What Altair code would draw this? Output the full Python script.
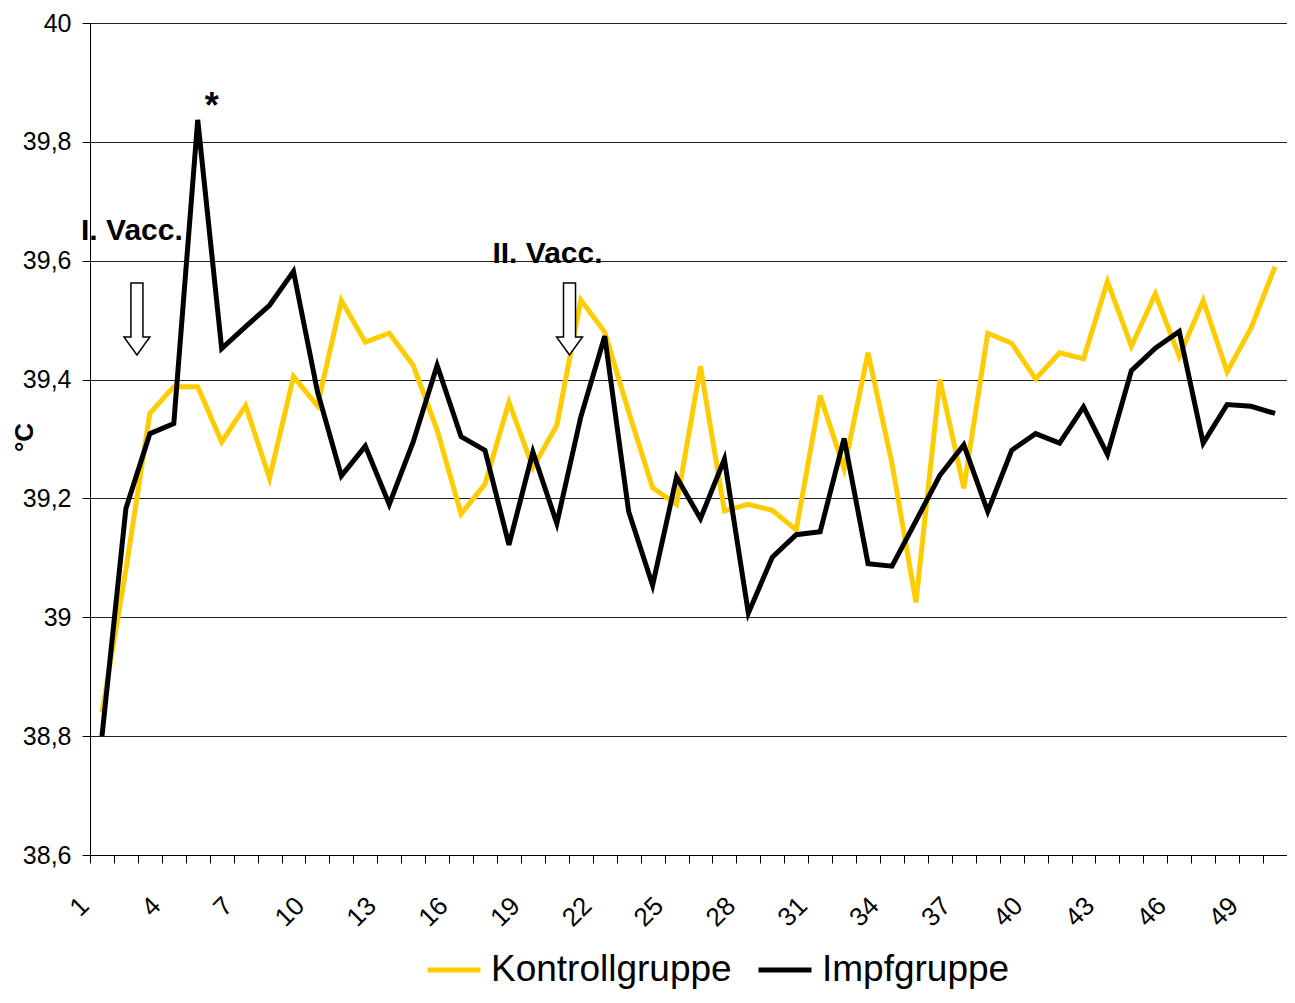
import altair as alt
import pandas as pd

days = list(range(1, 51))
kontroll = [38.84, 39.08, 39.343, 39.388, 39.388, 39.295, 39.356, 39.234, 39.405, 39.356,
            39.533, 39.463, 39.478, 39.424, 39.315, 39.174, 39.224, 39.362, 39.252, 39.323,
            39.534, 39.480, 39.346, 39.218, 39.190, 39.422, 39.179, 39.190, 39.180, 39.147,
            39.373, 39.250, 39.445, 39.259, 39.025, 39.400, 39.217, 39.478, 39.461, 39.401,
            39.445, 39.435, 39.565, 39.456, 39.544, 39.439, 39.533, 39.413, 39.487, 39.590]
impf = [38.80, 39.183, 39.309, 39.326, 39.837, 39.452, 39.489, 39.525, 39.582, 39.38,
        39.238, 39.288, 39.190, 39.295, 39.424, 39.304, 39.281, 39.122, 39.278, 39.158,
        39.337, 39.473, 39.178, 39.054, 39.236, 39.166, 39.266, 39.007, 39.101, 39.139,
        39.144, 39.301, 39.090, 39.086, 39.162, 39.239, 39.290, 39.178, 39.281, 39.309,
        39.293, 39.354, 39.274, 39.415, 39.453, 39.481, 39.293, 39.358, 39.355, 39.343]
series_names = ["Kontrollgruppe", "Impfgruppe"]
series_colors = ["#FFCC00", "#000000"]
y_ticks = [38.6, 38.8, 39.0, 39.2, 39.4, 39.6, 39.8, 40.0]
x_ticks = [k + 0.5 for k in range(0, 51)]

ann_text = ["I. Vacc.", "II. Vacc.", "*"]
ann_x = [2.25, 19.61, 5.59]
ann_y = [39.635, 39.596, 39.84]
ann_size = [30, 30, 36]
arrow_x = [2.46, 20.53]
arrow_y = [39.502, 39.502]

rows = []
for d, k, i in zip(days, kontroll, impf):
    rows.append({"day": d, "series": series_names[0], "temp": k})
    rows.append({"day": d, "series": series_names[1], "temp": i})
df = pd.DataFrame(rows)

FONT = "Liberation Sans"

x_enc = alt.X("day:Q",
              scale=alt.Scale(domain=[0.5, 50.5], nice=False, zero=False),
              axis=alt.Axis(values=x_ticks, grid=False, title=None,
                            labelExpr="((datum.value + 0.5) - 1) % 3 === 0 ? '' + (datum.value + 0.5) : ''",
                            labelAngle=-45, labelAlign="right", labelBaseline="alphabetic",
                            labelPadding=44, labelFontSize=26, labelFont=FONT,
                            labelColor="black", labelOverlap=False, labelFlush=False,
                            labelBound=False,
                            tickSize=8, tickColor="black", domainColor="black"))
y_enc = alt.Y("temp:Q",
              scale=alt.Scale(domain=[38.6, 40.0], nice=False, zero=False),
              axis=alt.Axis(values=y_ticks, grid=True, gridColor="#222222", gridWidth=1,
                            labelExpr="replace(format(datum.value, '~f'), '.', ',')",
                            labelFontSize=25, labelFont=FONT, labelColor="black", labelPadding=11,
                            labelOverlap=False,
                            tickSize=8, tickColor="black", domainColor="black",
                            title="°C", titleFont=FONT, titleFontSize=26, titleFontWeight="bold",
                            titleColor="black", titleAngle=-90, titleX=-66, titleY=414,
                            titleAlign="center", titleBaseline="middle"))

color_enc = alt.Color("series:N",
                      scale=alt.Scale(domain=series_names, range=series_colors),
                      legend=alt.Legend(title=None, orient="none", direction="horizontal",
                                        legendX=335, legendY=918,
                                        symbolType="stroke", symbolSize=2809, symbolStrokeWidth=5,
                                        labelFont=FONT, labelFontSize=37, labelColor="black",
                                        labelOffset=8, columnPadding=16, labelLimit=400))

base = alt.Chart(df)
line_k = base.transform_filter(alt.datum.series == series_names[0]).mark_line(strokeWidth=5).encode(
    x=x_enc, y=y_enc, color=color_enc)
line_i = base.transform_filter(alt.datum.series == series_names[1]).mark_line(strokeWidth=5).encode(
    x=x_enc, y=y_enc, color=color_enc)

ann_df = pd.DataFrame({"label": ann_text, "day": ann_x, "temp": ann_y, "fs": ann_size})
ann = alt.Chart(ann_df).mark_text(font=FONT, fontWeight="bold", color="black",
                                  align="center", baseline="alphabetic").encode(
    x=x_enc, y=y_enc, text="label:N",
    size=alt.Size("fs:Q", scale=None, legend=None))

arrow_path = "M -0.167 -1 L 0.167 -1 L 0.167 0.5 L 0.36 0.5 L 0 1 L -0.36 0.5 L -0.167 0.5 Z"
arr_df = pd.DataFrame({"day": arrow_x, "temp": arrow_y})
arrows = alt.Chart(arr_df).mark_point(shape=arrow_path, size=5184, fill="white", fillOpacity=1,
                                      stroke="black", strokeWidth=1.5, opacity=1).encode(
    x=x_enc, y=y_enc)

chart = alt.layer(line_k, line_i, arrows, ann).properties(
    width=1197, height=832,
    autosize=alt.AutoSizeParams(type="none"),
    padding={"left": 82, "top": 15, "right": 0, "bottom": 138},
).configure_view(stroke="black", strokeWidth=1).configure(background="white").configure_axisX(
    labelOverlap=False)

chart.save("out.html", embed_options={"renderer": "svg", "actions": False})
